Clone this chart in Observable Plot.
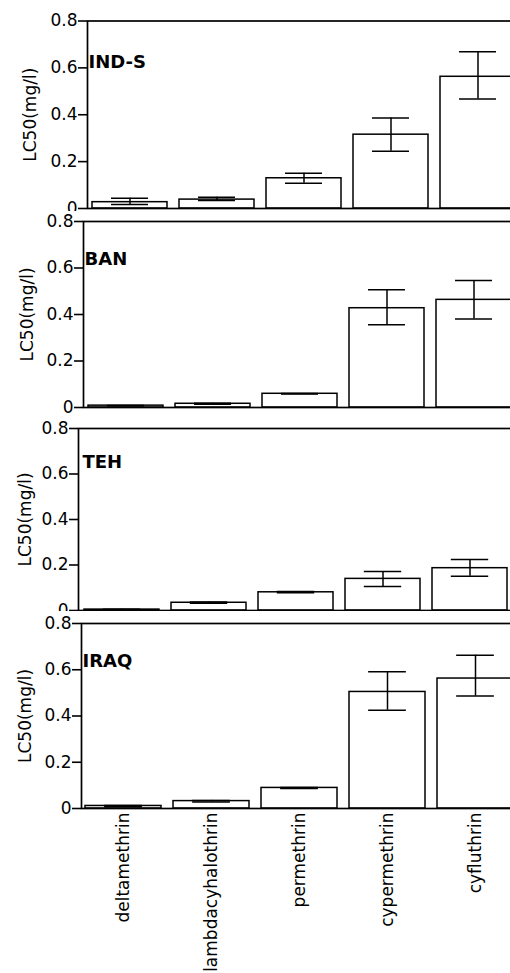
<!DOCTYPE html>
<html><head><meta charset="utf-8">
<script src="https://cdn.jsdelivr.net/npm/d3@7"></script>
<script src="https://cdn.jsdelivr.net/npm/@observablehq/plot@0.6"></script>
<style>
html,body{margin:0;padding:0;background:#fff;overflow:hidden}
#chart{position:relative;width:510px;height:973px;overflow:hidden;background:#fff}
.panel{position:absolute;left:0;width:510px;background:#fff;overflow:hidden}
.panel svg{display:block;max-width:none}
</style></head><body><div id="chart"></div>
<script>
// ---- data ----
const drugs = ["deltamethrin", "lambdacyhalothrin", "permethrin", "cypermethrin", "cyfluthrin"];
const strains = ["IND-S", "BAN", "TEH", "IRAQ"];
const yLabel = "LC50(mg/l)";
const yTicks = [0, 0.2, 0.4, 0.6, 0.8];
const yTickLabels = ["0", "0.2", "0.4", "0.6", "0.8"];

const indsMean = [0.027, 0.038, 0.129, 0.315, 0.562];
const indsLo   = [0.017, 0.034, 0.108, 0.244, 0.467];
const indsHi   = [0.044, 0.048, 0.150, 0.386, 0.669];

const banMean = [0.008, 0.016, 0.059, 0.427, 0.463];
const banLo   = [0.007, 0.014, 0.058, 0.356, 0.381];
const banHi   = [0.009, 0.018, 0.060, 0.506, 0.546];

const tehMean = [0.004, 0.034, 0.080, 0.139, 0.186];
const tehLo   = [0.003, 0.032, 0.078, 0.105, 0.151];
const tehHi   = [0.005, 0.037, 0.083, 0.171, 0.224];

const iraqMean = [0.011, 0.032, 0.089, 0.504, 0.562];
const iraqLo   = [0.008, 0.028, 0.087, 0.425, 0.486];
const iraqHi   = [0.013, 0.035, 0.091, 0.591, 0.663];

const series = [
  [indsMean, indsLo, indsHi],
  [banMean, banLo, banHi],
  [tehMean, tehLo, tehHi],
  [iraqMean, iraqLo, iraqHi]
];

// ---- layout (per panel, from the scanned figure) ----
const layout = [
  {top: 0,   h: 215, y08: 20.5, y0: 208, axisX: 87, barStart: 90, step: 88,   labelDx: 1, labelDy: 34, yLabelX: 30},
  {top: 211, h: 210, y08: 221,  y0: 407, axisX: 83, barStart: 86, step: 88,   labelDx: 1, labelDy: 31, yLabelX: 27},
  {top: 418, h: 200, y08: 428,  y0: 610, axisX: 78, barStart: 83, step: 87.5, labelDx: 4, labelDy: 27, yLabelX: 25},
  {top: 611, h: 362, y08: 623,  y0: 808, axisX: 81, barStart: 84, step: 88.3, labelDx: 1, labelDy: 31, yLabelX: 25}
];
const pad = 0.136;
const W = 560;

const chart = document.getElementById("chart");
strains.forEach((name, k) => {
  const L = layout[k];
  const [mean, lo, hi] = series[k];
  const data = drugs.map((d, i) => ({drug: d, value: mean[i], lo: lo[i], hi: hi[i]}));
  const last = k === strains.length - 1;
  const bw = L.step * (1 - pad);
  const capInset = (bw - 38) / 2;
  const marks = [
    Plot.barY(data, {x: "drug", y: "value", fill: "white", stroke: "black", strokeWidth: 1.5}),
    Plot.ruleX(data, {x: "drug", y1: "lo", y2: "hi", stroke: "black", strokeWidth: 1.5}),
    Plot.tickY(data, {x: "drug", y: "lo", stroke: "black", strokeWidth: 1.5, insetLeft: capInset, insetRight: capInset}),
    Plot.tickY(data, {x: "drug", y: "hi", stroke: "black", strokeWidth: 1.5, insetLeft: capInset, insetRight: capInset}),
    Plot.frame({stroke: "black", strokeWidth: 1.7}),
    Plot.axisY(yTicks, {tickSize: 9, tickPadding: 1, strokeWidth: 1.6, fontSize: 17, label: null,
      tickFormat: d => yTickLabels[yTicks.indexOf(d)]}),
    Plot.text([name], {frameAnchor: "top-left", textAnchor: "start", dx: L.labelDx, dy: L.labelDy,
      fontWeight: "bold", fontSize: 18}),
    Plot.text([yLabel], {frameAnchor: "left", textAnchor: "middle", rotate: -90,
      dx: L.yLabelX - L.axisX, fontSize: 17})
  ];
  if (last) marks.push(Plot.axisX({tickSize: 0, tickPadding: 4, tickRotate: -90, fontSize: 17, label: null}));
  const svg = Plot.plot({
    width: W,
    height: L.h,
    marginLeft: L.axisX,
    marginRight: 0,
    marginTop: L.y08 - L.top,
    marginBottom: L.h - (L.y0 - L.top),
    style: {fontFamily: "DejaVu Sans", color: "black", background: "white"},
    x: {domain: drugs, range: [L.barStart, L.barStart + L.step * (drugs.length - pad)],
        paddingInner: pad, paddingOuter: 0, axis: last ? undefined : null},
    y: {domain: [0, 0.8]},
    marks
  });
  const div = document.createElement("div");
  div.className = "panel";
  div.style.top = L.top + "px";
  div.style.height = L.h + "px";
  div.appendChild(svg);
  chart.appendChild(div);
});
</script></body></html>
